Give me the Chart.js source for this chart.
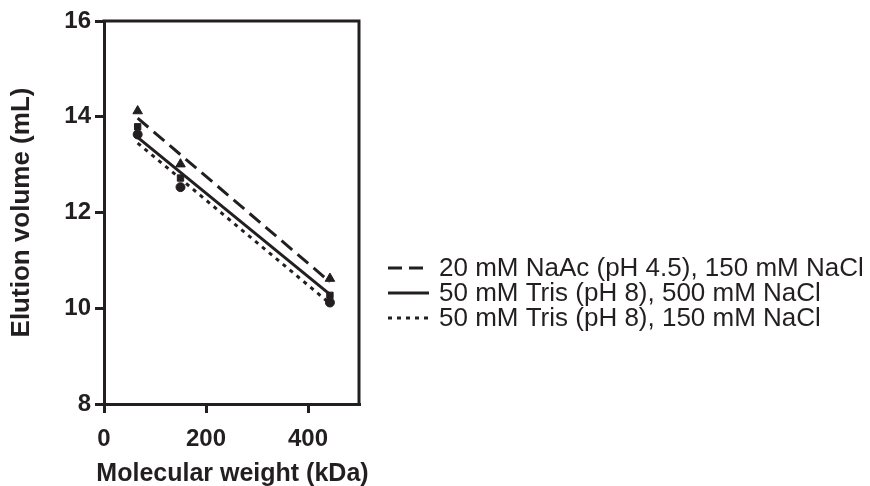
<!DOCTYPE html>
<html>
<head>
<meta charset="utf-8">
<script src="https://cdn.jsdelivr.net/npm/chart.js@4.4.1/dist/chart.umd.min.js"></script>
<style>
    html, body { margin: 0; padding: 0; background: #fff; }
    #wrap { width: 870px; height: 486px; }
</style>
</head>
<body>
<div id="wrap"><canvas id="calChart" width="870" height="486"></canvas></div>
<script>
// Molekylvikter för standarderna (kDa)
const mwValues = [66, 150, 443];
const naacPoints = [14.12, 13.01, 10.62];
const tris500Points = [13.79, 12.72, 10.27];
const tris150Points = [13.63, 12.53, 10.12];

// Anpassade linjer (ändpunkter)
const fitX = [66, 443];
const naacFit = [13.97, 10.55];
const tris500Fit = [13.57, 10.29];
const tris150Fit = [13.45, 10.10];

const seriesLabels = [
    '20 mM NaAc (pH 4.5), 150 mM NaCl',
    '50 mM Tris (pH 8), 500 mM NaCl',
    '50 mM Tris (pH 8), 150 mM NaCl'
];
const xTitle = 'Molecular weight (kDa)';
const yTitle = 'Elution volume (mL)';
const xTicks = [0, 200, 400];
const yTicks = [8, 10, 12, 14, 16];

const ink = '#231f20';
const family = '"Liberation Sans", Arial, sans-serif';

function toPoints(xs, ys) {
    return xs.map((x, i) => ({ x: x, y: ys[i] }));
}

function fitSet(label, ys, dash) {
    return {
        label: label,
        data: toPoints(fitX, ys),
        showLine: true,
        borderColor: ink,
        borderWidth: 3,
        borderDash: dash,
        pointRadius: 0,
        isFit: true
    };
}

function markerSet(ys, style) {
    return {
        data: toPoints(mwValues, ys),
        showLine: false,
        pointStyle: style,
        pointRadius: style === 'triangle' ? 5.5 : 4.5,
        backgroundColor: ink,
        borderColor: ink,
        borderWidth: 1
    };
}

// Ram upptill och till höger, x-axelns titel (utan maxbredd) + egen legend
const framePlugin = {
    id: 'frame',
    afterDraw(chart) {
        const { ctx, chartArea } = chart;
        ctx.save();
        ctx.strokeStyle = ink;
        ctx.lineWidth = 3;
        ctx.beginPath();
        ctx.moveTo(chartArea.left - 1.5, chartArea.top);
        ctx.lineTo(chartArea.right, chartArea.top);
        ctx.lineTo(chartArea.right, chartArea.bottom);
        ctx.stroke();

        ctx.fillStyle = ink;
        ctx.font = 'bold 25px ' + family;
        ctx.textAlign = 'center';
        ctx.textBaseline = 'middle';
        ctx.fillText(xTitle, (chartArea.left + chartArea.right) / 2 + 1, 474);

        // Legend
        const fits = chart.data.datasets.filter(d => d.isFit);
        const rowY = [268, 293, 318];
        ctx.font = '26px ' + family;
        ctx.textAlign = 'left';
        fits.forEach((d, i) => {
            ctx.beginPath();
            ctx.setLineDash(d.borderDash || []);
            ctx.lineWidth = 3;
            ctx.moveTo(388, rowY[i]);
            ctx.lineTo(429, rowY[i]);
            ctx.stroke();
            ctx.setLineDash([]);
            ctx.fillText(d.label, 439, rowY[i] + 1);
        });
        ctx.restore();
    }
};

const ctx = document.getElementById('calChart').getContext('2d');
new Chart(ctx, {
    type: 'scatter',
    data: {
        datasets: [
            fitSet(seriesLabels[0], naacFit, [14, 7]),
            fitSet(seriesLabels[1], tris500Fit, []),
            fitSet(seriesLabels[2], tris150Fit, [4, 5]),
            markerSet(naacPoints, 'triangle'),
            markerSet(tris500Points, 'rect'),
            markerSet(tris150Points, 'circle')
        ]
    },
    options: {
        responsive: false,
        animation: false,
        layout: { padding: { left: 0, top: 21, right: 511, bottom: 0 } },
        plugins: { legend: { display: false }, tooltip: { enabled: false } },
        scales: {
            x: {
                type: 'linear',
                min: 0,
                max: 500,
                afterBuildTicks: scale => { scale.ticks = xTicks.map(v => ({ value: v })); },
                afterFit: scale => { scale.height = 82; },
                border: { display: true, color: ink, width: 3 },
                grid: { drawOnChartArea: false, drawTicks: true, tickLength: 9, lineWidth: 3, color: ink },
                ticks: {
                    color: ink,
                    padding: 12,
                    font: { family: family, size: 24, weight: 'bold' }
                },
                title: { display: false }
            },
            y: {
                type: 'linear',
                min: 8,
                max: 16,
                afterBuildTicks: scale => { scale.ticks = yTicks.map(v => ({ value: v })); },
                afterFit: scale => { scale.width = 104; },
                border: { display: true, color: ink, width: 3 },
                grid: { drawOnChartArea: false, drawTicks: true, tickLength: 9, lineWidth: 3, color: ink },
                ticks: {
                    color: ink,
                    padding: 4,
                    font: { family: family, size: 24, weight: 'bold' }
                },
                title: {
                    display: true,
                    text: yTitle,
                    color: ink,
                    padding: { top: 9, bottom: 0 },
                    font: { family: family, size: 26, weight: 'bold', lineHeight: 1 }
                }
            }
        }
    },
    plugins: [framePlugin]
});
</script>
</body>
</html>
